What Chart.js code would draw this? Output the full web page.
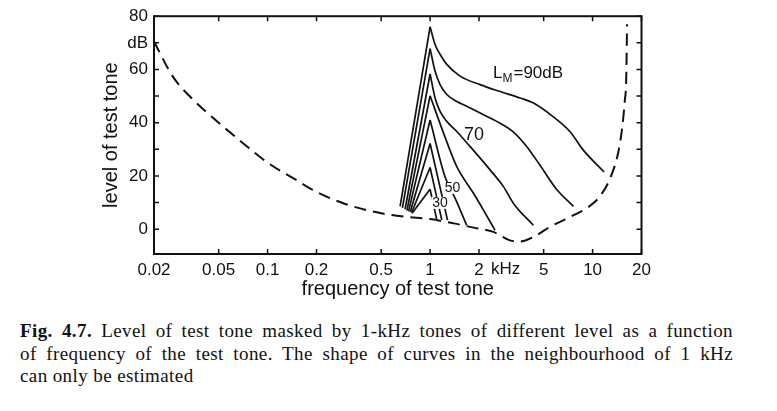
<!DOCTYPE html>
<html>
<head>
<meta charset="utf-8">
<script src="https://cdn.jsdelivr.net/npm/chart.js@4.4.1/dist/chart.umd.min.js"></script>
<style>
  html, body { margin: 0; padding: 0; background: #fff; }
  #wrap { position: relative; width: 777px; height: 411px; overflow: hidden; }
  #c { position: absolute; left: 0; top: 0; }
  .cap { position: absolute; left: 20px; top: 320px; width: 713px;
         font-family: "Liberation Serif", "DejaVu Serif", serif; font-size: 19px;
         letter-spacing: 0.4px; line-height: 22.5px; color: #111; }
  .cap .j { text-align: justify; text-align-last: justify; }
</style>
</head>
<body>
<div id="wrap">
  <canvas id="c" width="777" height="305"></canvas>
  <div class="cap">
    <div class="j"><b>Fig. 4.7.</b> Level of test tone masked by 1-kHz tones of different level as a function</div>
    <div class="j">of frequency of the test tone. The shape of curves in the neighbourhood of 1 kHz</div>
    <div>can only be estimated</div>
  </div>
</div>
<script>
const xTicks = [0.02, 0.05, 0.1, 0.2, 0.5, 1, 2, 5, 10, 20];
const xTickLabels = ['0.02', '0.05', '0.1', '0.2', '0.5', '1', '2', '5', '10', '20'];
const yTicks = [0, 10, 20, 30, 40, 50, 60, 70, 80];
const yTickLabels = ['0', '', '20', '', '40', '', '60', 'dB', '80'];

// threshold in quiet (dashed)
const quietFreq = [0.02, 0.026, 0.035, 0.05, 0.07, 0.1, 0.15, 0.2, 0.3, 0.5, 0.7, 1.0, 1.4, 1.85, 2.45,
                   3.1, 3.58, 4.32, 5.47, 7.27, 9.5, 11.1, 12.8, 14.4, 15.2, 15.8, 16.1, 16.3];
const quietDb = [70.5, 57.5, 48.5, 40, 32.5, 25, 18.5, 14, 9.5, 6.0, 4.7, 3.8, 2.2, 0.6, -1.0,
                 -4.2, -4.6, -2.9, 0.9, 4.6, 8.5, 12.4, 19, 29, 38, 48.5, 56, 77];

// masker levels, low-frequency end of each (straight) lower flank
const maskerLevels = [20, 30, 40, 50, 60, 70, 80, 90];
const flankFreq = [0.775, 0.769, 0.755, 0.737, 0.72, 0.702, 0.676, 0.654];
const flankDb = [6.0, 6.2, 6.5, 6.7, 7.0, 7.5, 8.0, 8.6];

// upper slopes from the 1 kHz peak downwards, [kHz, dB]
const slope20 = [[1, 15.0], [1.10, 3.5]];
const slope30 = [[1, 23.2], [1.18, 3.5]];
const slope40 = [[1, 32.2], [1.28, 3.4]];
const slope50 = [[1, 41.0], [1.237, 19.6], [1.425, 11.7], [1.68, 1.5]];
const slope60 = [[1, 50.1], [1.21, 36.1], [1.46, 23.5], [1.85, 13.5], [2.13, 7.2], [2.51, -0.4]];
const slope70 = [[1, 58.3], [1.073, 49.3], [1.152, 44.3], [1.267, 40.5], [1.46, 36.7], [1.76, 31.1],
                 [2.34, 22.3], [2.83, 16.0], [3.26, 9.7], [4.32, 1.5]];
const slope80 = [[1, 67.8], [1.073, 59.4], [1.152, 54.3], [1.267, 50.6], [1.46, 48.0], [1.68, 46.2],
                 [2.13, 43.0], [2.57, 40.5], [3.26, 36.5], [3.94, 31], [4.75, 24], [6.0, 15], [7.62, 8.6]];
const slope90 = [[1, 76.0], [1.073, 69.4], [1.152, 65.7], [1.267, 61.9], [1.53, 57.5], [2.03, 54.3],
                 [2.7, 51.7], [3.58, 49.3], [4.3, 47.5], [5.71, 42.3], [7.27, 36.6], [8.74, 29.8], [11.77, 21.5]];
const slopes = [slope20, slope30, slope40, slope50, slope60, slope70, slope80, slope90];

// curve labels (kHz, dB)
const labelText = ['70', '50', '30'];
const labelFreq = [1.866, 1.375, 1.152];
const labelDb = [35.4, 15.5, 9.9];
const lmLabelFreq = 2.44, lmLabelDb = 58.5;

const INK = '#111';
const FONT = "'Liberation Sans', 'DejaVu Sans', sans-serif";
Chart.defaults.font.family = FONT;
Chart.defaults.color = INK;

const datasets = [{
  data: quietFreq.map((f, i) => ({x: f, y: quietDb[i]})),
  borderColor: INK, borderWidth: 2, borderDash: [12, 7],
  cubicInterpolationMode: 'monotone'
}];
maskerLevels.forEach((lvl, i) => {
  const s = slopes[i];
  datasets.push({
    data: [{x: flankFreq[i], y: flankDb[i]}, {x: s[0][0], y: s[0][1]}],
    borderColor: INK, borderWidth: 1.7, tension: 0
  });
  datasets.push({
    data: s.map(p => ({x: p[0], y: p[1]})),
    borderColor: INK, borderWidth: 1.7, cubicInterpolationMode: 'monotone'
  });
});
datasets.forEach(d => { d.showLine = true; d.pointRadius = 0; d.fill = false; });

const frame = {
  id: 'frame',
  afterDatasetsDraw(chart) {
    const {ctx, chartArea: a, scales: {x, y}} = chart;
    ctx.save();
    ctx.strokeStyle = INK;
    ctx.lineWidth = 2;
    ctx.strokeRect(a.left, a.top, a.right - a.left, a.bottom - a.top);
    ctx.lineWidth = 1.5;
    ctx.beginPath();
    xTicks.forEach(v => {
      const px = x.getPixelForValue(v);
      ctx.moveTo(px, a.top); ctx.lineTo(px, a.top + 5);
      ctx.moveTo(px, a.bottom); ctx.lineTo(px, a.bottom - 5);
    });
    yTicks.forEach(v => {
      const py = y.getPixelForValue(v);
      ctx.moveTo(a.left, py); ctx.lineTo(a.left + 5, py);
      ctx.moveTo(a.right, py); ctx.lineTo(a.right - 5, py);
    });
    ctx.stroke();

    ctx.fillStyle = INK;
    ctx.textBaseline = 'middle';
    // "kHz" after the 2 tick label
    ctx.font = '17px ' + FONT;
    ctx.textAlign = 'left';
    ctx.fillText('kHz', x.getPixelForValue(2) + 12, a.bottom + 15);

    // L_M = 90 dB
    let lx = x.getPixelForValue(lmLabelFreq), ly = y.getPixelForValue(lmLabelDb);
    ctx.font = '17px ' + FONT;
    ctx.fillText('L', lx, ly);
    lx += ctx.measureText('L').width;
    ctx.font = '12px ' + FONT;
    ctx.fillText('M', lx, ly + 5);
    lx += ctx.measureText('M').width + 1;
    ctx.font = '17px ' + FONT;
    ctx.fillText('=90dB', lx, ly);

    labelText.forEach((t, i) => {
      const px = x.getPixelForValue(labelFreq[i]), py = y.getPixelForValue(labelDb[i]);
      ctx.font = (i === 0 ? '18px ' : '14px ') + FONT;
      ctx.textAlign = 'center';
      const w = ctx.measureText(t).width;
      if (i > 0) {
        ctx.fillStyle = '#fff';
        ctx.fillRect(px - w / 2 - 1, py - 6, w + 2, 12);
        ctx.fillStyle = INK;
      }
      ctx.fillText(t, px, py);
    });
    ctx.restore();
  }
};

new Chart(document.getElementById('c'), {
  type: 'scatter',
  data: {datasets},
  plugins: [frame],
  options: {
    responsive: false,
    animation: false,
    devicePixelRatio: 1,
    layout: {padding: {left: 0, top: 16, right: 135.5, bottom: 0}},
    plugins: {legend: {display: false}, tooltip: {enabled: false}},
    scales: {
      x: {
        type: 'logarithmic', min: 0.02, max: 20,
        afterBuildTicks: s => { s.ticks = xTicks.map(v => ({value: v})); },
        afterFit: s => { s.height = 51; },
        grid: {display: false, drawTicks: false},
        border: {display: false},
        ticks: {autoSkip: false, maxRotation: 0, minRotation: 0, padding: 6, color: INK, font: {size: 17},
                callback: v => xTickLabels[xTicks.indexOf(v)]},
        title: {display: true, text: 'frequency of test tone', color: INK, font: {size: 20},
                padding: {top: 0, bottom: 4}}
      },
      y: {
        min: -9.3, max: 80,
        afterBuildTicks: s => { s.ticks = yTicks.map(v => ({value: v})); },
        afterFit: s => { s.width = 154; },
        grid: {display: false, drawTicks: false},
        border: {display: false},
        ticks: {autoSkip: false, padding: 6, color: INK, font: {size: 17},
                callback: v => yTickLabels[yTicks.indexOf(v)]},
        title: {display: true, text: 'level of test tone', color: INK, font: {size: 20},
                padding: {top: 99.5, bottom: 0}}
      }
    }
  }
});
</script>
</body>
</html>
